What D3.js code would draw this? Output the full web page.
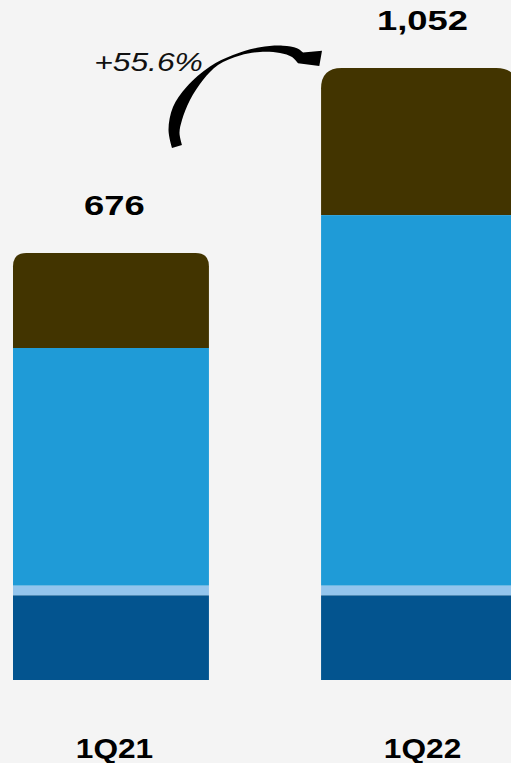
<!DOCTYPE html>
<html>
<head>
<meta charset="utf-8">
<script src="https://cdn.jsdelivr.net/npm/d3@7"></script>
<style>
  html, body { margin: 0; padding: 0; background: #f4f4f4; }
  svg { display: block; }
</style>
</head>
<body>
<svg id="chart" width="511" height="763"></svg>
<script>
// Periods and stacked segment values (base segments stack below zero)
const periods = ['1Q21', '1Q22'];
const totals = [676, 1052];
const darkBase = [-172, -172];
const lightBase = [-20, -20];
const blueCore = [483, 753];
const brownTop = [193, 299];
const growthLabel = '+55.6%';

const colors = {
  dark: '#03548f',
  light: '#93c5ed',
  blue: '#1f9bd7',
  brown: '#423400'
};

const rows = periods.map((p, i) => ({
  period: p,
  light: lightBase[i],
  dark: darkBase[i],
  blue: blueCore[i],
  brown: brownTop[i],
  total: totals[i]
}));

const keys = ['light', 'dark', 'blue', 'brown'];
const series = d3.stack().keys(keys).offset(d3.stackOffsetDiverging)(rows);

const svg = d3.select('#chart');
const W = 511, H = 763;
svg.append('rect').attr('width', W).attr('height', H).attr('fill', '#f4f4f4');

const x = d3.scaleBand().domain(periods).range([13, 517]).paddingInner(0.364).paddingOuter(0);
const y = d3.scaleLinear().domain([-192, 1052]).range([680, 68]);

// rectangle with rounded top corners only
function roundedTop(x0, y0, w, h, r) {
  return `M${x0},${y0 + h}V${y0 + r}Q${x0},${y0} ${x0 + r},${y0}H${x0 + w - r}Q${x0 + w},${y0} ${x0 + w},${y0 + r}V${y0 + h}Z`;
}

const layers = svg.append('g').selectAll('g').data(series).join('g')
  .attr('fill', s => colors[s.key]);

layers.each(function (s) {
  const g = d3.select(this);
  s.forEach(d => {
    const x0 = x(d.data.period);
    const w = x.bandwidth();
    const yTop = y(Math.max(d[0], d[1]));
    const yBot = y(Math.min(d[0], d[1]));
    const h = yBot - yTop;
    if (s.key === 'brown') {
      g.append('path').attr('d', roundedTop(x0, yTop, w, h, h * 0.14));
    } else {
      g.append('rect').attr('x', x0).attr('y', yTop).attr('width', w).attr('height', h);
    }
  });
});

// total labels above each bar
const font = '"Liberation Sans", Arial, Helvetica, sans-serif';
svg.append('g').selectAll('text').data(rows).join('text')
  .attr('transform', d => `translate(${x(d.period) + x.bandwidth() / 2 + 3.5},${y(d.total) - 38}) scale(1.3,1)`)
  .attr('text-anchor', 'middle')
  .attr('font-family', font)
  .attr('font-weight', 'bold')
  .attr('font-size', 28)
  .attr('fill', '#000')
  .text(d => d3.format(',')(d.total));

// category axis
const axis = svg.append('g')
  .attr('transform', `translate(0,${y(-192)})`)
  .call(d3.axisBottom(x).tickSize(0).tickPadding(0));
axis.select('.domain').remove();
axis.selectAll('text')
  .attr('y', 0)
  .attr('dy', 0)
  .attr('transform', 'translate(3.5,78) scale(1.13,1)')
  .attr('font-family', font)
  .attr('font-weight', 'bold')
  .attr('font-size', 28)
  .attr('fill', '#000');

// growth annotation with curved arrow
svg.append('text')
  .attr('transform', 'translate(148.5,70.5) scale(1.2,1)')
  .attr('text-anchor', 'middle')
  .attr('font-family', font)
  .attr('font-style', 'italic')
  .attr('font-size', 26.5)
  .attr('fill', '#111')
  .text(growthLabel);

const outerEdge = [[172, 148], [168.5, 130], [173, 107], [186.5, 87], [210, 66.5], [233, 55], [260, 47.3], [283, 45.7], [297, 48.3], [303, 52.5]];
const innerEdge = [[298, 63.3], [292, 57], [280, 53], [260, 52], [240, 55.5], [218, 65], [203, 80], [190, 100], [182, 120], [179.5, 133], [182, 145]];
const edge = d3.line().curve(d3.curveCatmullRom);
const arrowPath = edge(outerEdge) + 'L322,50.7L319.3,66' + edge(innerEdge).replace(/^M/, 'L') + 'Z';
svg.append('path').attr('d', arrowPath).attr('fill', '#000');
</script>
</body>
</html>
